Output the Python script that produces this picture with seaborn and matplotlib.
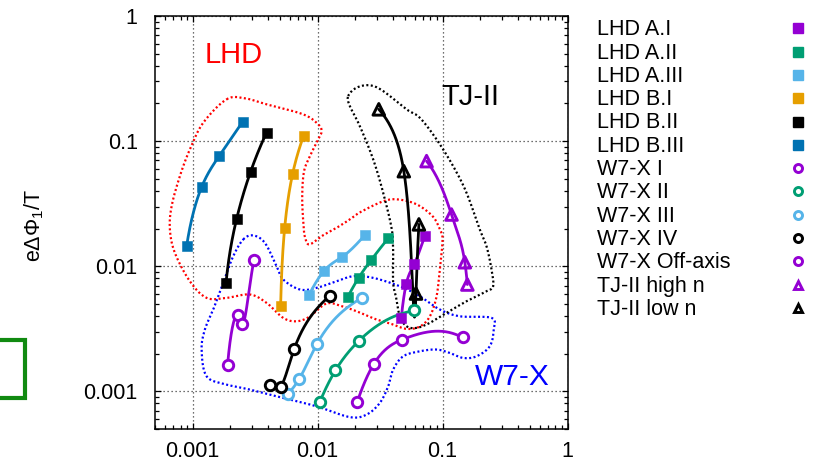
import numpy as np
import pandas as pd
import matplotlib
matplotlib.use("Agg")
import matplotlib.pyplot as plt
from matplotlib.lines import Line2D
from matplotlib.ticker import FixedLocator, NullFormatter, FixedFormatter
import seaborn as sns

# ---------------------------------------------------------------- data
labels = ["LHD A.I", "LHD A.II", "LHD A.III", "LHD B.I", "LHD B.II", "LHD B.III",
          "W7-X I", "W7-X II", "W7-X III", "W7-X IV", "W7-X Off-axis",
          "TJ-II high n", "TJ-II low n"]

lhd_a1_x = [0.0468, 0.0513, 0.0594, 0.0722]
lhd_a1_y = [0.00389, 0.00727, 0.0104, 0.0174]
lhd_a2_x = [0.0174, 0.0213, 0.0270, 0.0367]
lhd_a2_y = [0.00565, 0.00807, 0.0113, 0.0167]
lhd_a3_x = [0.0085, 0.0112, 0.0156, 0.0239]
lhd_a3_y = [0.00586, 0.00912, 0.0118, 0.0177]
lhd_b1_x = [0.00506, 0.00545, 0.0063, 0.00773]
lhd_b1_y = [0.00479, 0.0201, 0.0542, 0.110]
lhd_b2_x = [0.00185, 0.00225, 0.00291, 0.00391]
lhd_b2_y = [0.00737, 0.0239, 0.0569, 0.117]
lhd_b3_x = [0.000895, 0.00118, 0.00163, 0.00251]
lhd_b3_y = [0.01445, 0.0429, 0.0759, 0.142]

w7x_1_x = [0.0208, 0.0282, 0.0475, 0.1445]
w7x_1_y = [0.000823, 0.001655, 0.00259, 0.0027]
w7x_2_x = [0.0104, 0.0139, 0.0213, 0.0589]
w7x_2_y = [0.000817, 0.00147, 0.00252, 0.00443]
w7x_3_x = [0.00582, 0.00713, 0.00993, 0.0225]
w7x_3_y = [0.000953, 0.001256, 0.00241, 0.00559]
w7x_4_x = [0.00415, 0.00506, 0.0065, 0.01253]
w7x_4_y = [0.001117, 0.001084, 0.00218, 0.00583]
w7x_off_x = [0.001905, 0.00232, 0.00249, 0.00309]
w7x_off_y = [0.001636, 0.00406, 0.00348, 0.01117]

tj_high_x = [0.0745, 0.118, 0.1508, 0.158]
tj_high_y = [0.0692, 0.0259, 0.01076, 0.00714]
tj_low_x = [0.0309, 0.049, 0.0613, 0.0647]
tj_low_y = [0.1795, 0.0575, 0.00605, 0.0216]

# outlines of the three device regions (log10 coordinates)
lhd_region_lx = [-2.728, -2.582, -2.408, -2.115, -1.995, -1.968, -1.995, -2.062, -2.110, -2.123,
                 -2.110, -2.102, -2.067, -1.958, -1.848, -1.742, -1.662, -1.478, -1.358, -1.206,
                 -1.078, -1.022, -1.000, -1.022, -1.048, -1.102, -1.182, -1.288, -1.395, -1.528,
                 -1.688, -1.798, -1.928, -2.062, -2.168, -2.275, -2.408, -2.542, -2.728, -2.888,
                 -3.022, -3.142, -3.182, -3.168, -3.102, -3.022, -2.915]
lhd_region_ly = [-0.666, -0.658, -0.706, -0.786, -0.866, -0.922, -0.986, -1.122, -1.250, -1.466,
                 -1.706, -1.762, -1.826, -1.754, -1.693, -1.626, -1.570, -1.482, -1.466, -1.506,
                 -1.602, -1.706, -1.786, -2.026, -2.242, -2.402, -2.482, -2.501, -2.466, -2.426,
                 -2.360, -2.322, -2.298, -2.402, -2.440, -2.413, -2.293, -2.226, -2.253, -2.253,
                 -2.120, -1.893, -1.706, -1.520, -1.280, -1.066, -0.853]

w7x_region_lx = [-2.595, -2.515, -2.422, -2.328, -2.275, -2.142, -2.008, -1.848, -1.715, -1.555,
                 -1.342, -1.182, -1.022, -0.862, -0.608, -0.590, -0.622, -0.728, -0.835, -0.942,
                 -1.048, -1.182, -1.315, -1.395, -1.435, -1.502, -1.608, -1.742, -2.008, -2.275,
                 -2.542, -2.728, -2.888, -2.928, -2.902, -2.835, -2.755, -2.675]
w7x_region_ly = [-1.786, -1.754, -1.813, -2.000, -2.106, -2.186, -2.173, -2.120, -2.080, -2.093,
                 -2.160, -2.240, -2.346, -2.400, -2.413, -2.506, -2.640, -2.720, -2.733, -2.693,
                 -2.666, -2.680, -2.720, -2.826, -2.960, -3.093, -3.186, -3.206, -3.120, -3.053,
                 -2.986, -2.946, -2.880, -2.666, -2.506, -2.346, -2.133, -1.920]

tj_region_lx = [-1.755, -1.688, -1.582, -1.475, -1.288, -1.182, -1.048, -0.915, -0.808, -0.702,
                -0.648, -0.608, -0.595, -0.648, -0.808, -0.968, -1.102, -1.208, -1.288, -1.342,
                -1.368, -1.395, -1.395, -1.406, -1.475, -1.555, -1.662, -1.742]
tj_region_ly = [-0.640, -0.573, -0.554, -0.600, -0.746, -0.813, -0.986, -1.200, -1.413, -1.706,
                -1.840, -2.026, -2.160, -2.200, -2.280, -2.373, -2.453, -2.493, -2.480, -2.400,
                -2.266, -2.133, -1.893, -1.706, -1.413, -1.146, -0.880, -0.720]

tick_values = [0.001, 0.01, 0.1, 1]
tick_labels = ["0.001", "0.01", "0.1", "1"]

# ---------------------------------------------------------------- helpers
PURPLE, GREEN, SKY = "#9400D3", "#009E73", "#56B4E9"
ORANGE, BLACK, BLUE = "#E69F00", "#000000", "#0072B2"


def natural_spline(x, y, per_seg=120):
    """Natural cubic spline through the points (sorted by x), in data space."""
    order = np.argsort(x)
    x, y = np.asarray(x, float)[order], np.asarray(y, float)[order]
    m = len(x)
    h = np.diff(x)
    A = np.zeros((m, m))
    r = np.zeros(m)
    A[0, 0] = A[-1, -1] = 1.0
    for i in range(1, m - 1):
        A[i, i - 1] = h[i - 1]
        A[i, i] = 2 * (h[i - 1] + h[i])
        A[i, i + 1] = h[i]
        r[i] = 6 * ((y[i + 1] - y[i]) / h[i] - (y[i] - y[i - 1]) / h[i - 1])
    M = np.linalg.solve(A, r)
    xs, ys = [], []
    for i in range(m - 1):
        t = np.linspace(x[i], x[i + 1], per_seg)
        a, b = x[i + 1] - t, t - x[i]
        s = (M[i] * a ** 3 + M[i + 1] * b ** 3) / (6 * h[i]) \
            + (y[i] / h[i] - M[i] * h[i] / 6) * a + (y[i + 1] / h[i] - M[i + 1] * h[i] / 6) * b
        xs.append(t)
        ys.append(s)
    xs, ys = np.concatenate(xs), np.concatenate(ys)
    ys = np.where(ys > 0, ys, np.nan)
    return xs, ys


def closed_curve(lx, ly, n=14):
    """Smooth closed Catmull-Rom curve through outline vertices."""
    P = np.column_stack([lx, ly])
    k = len(P)
    out = []
    for i in range(k):
        p0, p1, p2, p3 = P[(i - 1) % k], P[i], P[(i + 1) % k], P[(i + 2) % k]
        t = np.linspace(0, 1, n, endpoint=False)[:, None]
        out.append(0.5 * ((2 * p1) + (-p0 + p2) * t + (2 * p0 - 5 * p1 + 4 * p2 - p3) * t ** 2
                          + (-p0 + 3 * p1 - 3 * p2 + p3) * t ** 3))
    out.append(P[:1])
    c = np.vstack(out)
    return 10 ** c[:, 0], 10 ** c[:, 1]


series = [
    (labels[0], lhd_a1_x, lhd_a1_y, PURPLE, "s"),
    (labels[1], lhd_a2_x, lhd_a2_y, GREEN, "s"),
    (labels[2], lhd_a3_x, lhd_a3_y, SKY, "s"),
    (labels[3], lhd_b1_x, lhd_b1_y, ORANGE, "s"),
    (labels[4], lhd_b2_x, lhd_b2_y, BLACK, "s"),
    (labels[5], lhd_b3_x, lhd_b3_y, BLUE, "s"),
    (labels[6], w7x_1_x, w7x_1_y, PURPLE, "o"),
    (labels[7], w7x_2_x, w7x_2_y, GREEN, "o"),
    (labels[8], w7x_3_x, w7x_3_y, SKY, "o"),
    (labels[9], w7x_4_x, w7x_4_y, BLACK, "o"),
    (labels[10], w7x_off_x, w7x_off_y, PURPLE, "o"),
    (labels[11], tj_high_x, tj_high_y, PURPLE, "^"),
    (labels[12], tj_low_x, tj_low_y, BLACK, "^"),
]

# ---------------------------------------------------------------- figure
sns.set_theme(style="white")
plt.rcParams["font.family"] = ["Liberation Sans", "DejaVu Sans"]
plt.rcParams["mathtext.default"] = "regular"

W, H = 819, 462
fig = plt.figure(figsize=(W / 100, H / 100), dpi=100)
ax = fig.add_axes([155 / W, 1 - 429 / H, (567.5 - 155) / W, (429 - 16) / H])
ax.set_xscale("log")
ax.set_yscale("log")
ax.set_xlim(0.0005, 1)
ax.set_ylim(0.0005, 1)

# region outlines
for lx, ly, col in [(lhd_region_lx, lhd_region_ly, "#FF0000"),
                    (w7x_region_lx, w7x_region_ly, "#0000FF"),
                    (tj_region_lx, tj_region_ly, "#000000")]:
    cx, cy = closed_curve(lx, ly)
    ax.plot(cx, cy, color=col, lw=1.6, linestyle=(0, (0.9, 1.1)), dash_capstyle="butt", zorder=2)

# series: smooth curve + markers
for lab, x, y, col, mk in series:
    sx, sy = natural_spline(x, y)
    sns.lineplot(x=sx, y=sy, ax=ax, color=col, lw=2.0, sort=False, estimator=None, zorder=3)
    if mk == "s":
        sns.scatterplot(x=x, y=y, ax=ax, marker="s", s=50, color=col, edgecolor=col,
                        linewidth=0.4, zorder=4)
    else:
        sns.scatterplot(x=x, y=y, ax=ax, marker=mk, s=56 if mk == "o" else 70,
                        facecolor="white" if mk == "o" else "none", edgecolor=col,
                        linewidth=2.1, zorder=4)

# axes styling
ax.xaxis.set_major_locator(FixedLocator(tick_values))
ax.yaxis.set_major_locator(FixedLocator(tick_values))
ax.xaxis.set_major_formatter(FixedFormatter(tick_labels))
ax.yaxis.set_major_formatter(FixedFormatter(tick_labels))
minor = [m * 10.0 ** e for e in range(-4, 0) for m in range(2, 10)]
ax.xaxis.set_minor_locator(FixedLocator(minor))
ax.yaxis.set_minor_locator(FixedLocator(minor))
ax.xaxis.set_minor_formatter(NullFormatter())
ax.yaxis.set_minor_formatter(NullFormatter())
ax.tick_params(which="both", direction="in", top=True, right=True, bottom=True, left=True,
               color="black", width=0.9)
ax.tick_params(which="major", length=4.5, labelsize=15.5, labelcolor="black")
ax.tick_params(which="minor", length=2.6)
ax.tick_params(axis="y", which="major", pad=12.5)
ax.tick_params(axis="x", which="major", pad=8.5)
for sp in ax.spines.values():
    sp.set_color("black")
    sp.set_linewidth(1.1)
ax.grid(which="major", color="0.25", lw=0.9, linestyle=(0, (1, 2.2)))
ax.set_axisbelow(True)

ax.set_ylabel("eΔΦ$_1$/T", fontsize=15.5, color="black")
ax.yaxis.set_label_coords((46 - 155) / 412.5, 0.494)

# region names
ax.text(0.001254, 0.419, "LHD", color="#FF0000", fontsize=21, ha="left", va="baseline")
ax.text(0.0982, 0.193, "TJ-II", color="black", fontsize=21, ha="left", va="baseline")
ax.text(0.181, 0.00113, "W7-X", color="#0000FF", fontsize=21.5, ha="left", va="baseline")

# key on the right: label left, marker right
for i, (lab, x, y, col, mk) in enumerate(series):
    yc = 28.3 + 23.3 * i
    fig.text(597 / W, 1 - (yc + 7) / H, lab, fontsize=15.5, color="black",
             ha="left", va="baseline")
    if mk == "s":
        h = Line2D([797.7 / W], [1 - yc / H], transform=fig.transFigure, marker="s",
                   markersize=7.2, color=col, linestyle="none")
    else:
        h = Line2D([797.7 / W], [1 - yc / H], transform=fig.transFigure, marker=mk,
                   markersize=5.8, markerfacecolor="white", markeredgecolor=col,
                   markeredgewidth=2.1, linestyle="none")
    fig.add_artist(h)

# green frame fragment at the left edge
fig.add_artist(Line2D([0 / W, 25 / W, 25 / W, 0 / W],
                      [1 - 340 / H, 1 - 340 / H, 1 - 398 / H, 1 - 398 / H],
                      transform=fig.transFigure, color="#118a11", lw=3.0,
                      solid_joinstyle="miter"))

fig.savefig("out.png", dpi=100)
